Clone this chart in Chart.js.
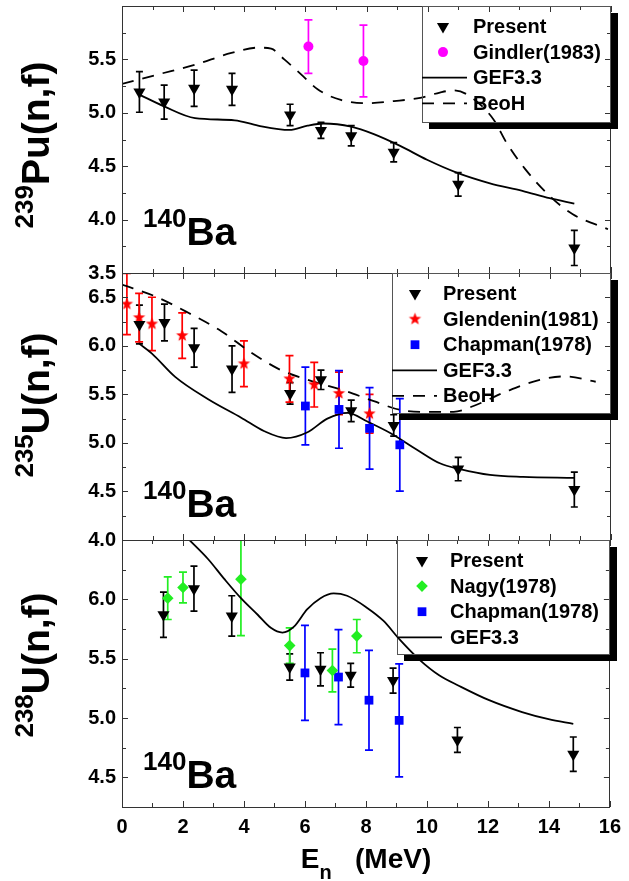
<!DOCTYPE html>
<html>
<head>
    <title>140Ba yields vs neutron energy</title>
    <script src="https://cdn.jsdelivr.net/npm/chart.js"></script>
    <style>
        body {
            margin: 0;
            background: #ffffff;
        }
        #wrap {
            position: relative;
            width: 629px;
            height: 881px;
            overflow: hidden;
        }
        canvas {
            position: absolute;
            left: 0;
        }
    </style>
</head>
<body>
<div id="wrap">
    <canvas id="puChart" width="629" height="310" style="top:-14px"></canvas>
    <canvas id="u235Chart" width="629" height="310" style="top:253px"></canvas>
    <canvas id="u238Chart" width="629" height="361" style="top:520px"></canvas>
</div>
<script>
    // ---------- data ----------
    const xTicks = [0, 2, 4, 6, 8, 10, 12, 14, 16];

    // 239Pu(n,f)
    const puTicks = [3.5, 4.0, 4.5, 5.0, 5.5];
    const puPresentX = [0.57, 1.38, 2.36, 3.6, 5.5, 6.51, 7.5, 8.89, 11.0, 14.8];
    const puPresentY = [5.195, 5.10, 5.23, 5.22, 4.98, 4.835, 4.785, 4.63, 4.33, 3.735];
    const puPresentErr = [0.19, 0.16, 0.17, 0.15, 0.10, 0.075, 0.095, 0.09, 0.11, 0.165];
    const gindlerX = [6.1, 7.9];
    const gindlerY = [5.62, 5.485];
    const gindlerErr = [0.25, 0.335];
    const puGefX = [0.57, 1.38, 2.39, 3.69, 4.45, 5.48, 6.07, 6.6, 7.5, 8.24, 9.1, 9.98, 10.95, 12.04, 13.1, 13.99, 14.8];
    const puGefY = [5.17, 5.06, 4.95, 4.93, 4.88, 4.84, 4.88, 4.90, 4.87, 4.80, 4.69, 4.56, 4.44, 4.34, 4.27, 4.20, 4.15];
    const puBeohX = [0, 1.19, 2.39, 3.58, 4.45, 4.88, 5.31, 5.86, 6.4, 7.16, 8.03, 8.9, 9.76, 10.4, 10.85, 11.3, 12.15, 12.58, 13.2, 14.0, 14.75, 15.9];
    const puBeohY = [5.27, 5.36, 5.45, 5.56, 5.61, 5.60, 5.50, 5.36, 5.22, 5.12, 5.09, 5.11, 5.14, 5.19, 5.21, 5.17, 4.94, 4.72, 4.47, 4.22, 4.05, 3.91];

    // 235U(n,f)
    const u235Ticks = [4.0, 4.5, 5.0, 5.5, 6.0, 6.5];
    const u235PresentX = [0.57, 1.39, 2.36, 3.6, 5.5, 6.51, 7.5, 8.89, 11.0, 14.8];
    const u235PresentY = [6.22, 6.24, 5.98, 5.76, 5.51, 5.65, 5.33, 5.18, 4.73, 4.52];
    const u235PresentErr = [0.20, 0.19, 0.20, 0.24, 0.11, 0.10, 0.11, 0.11, 0.12, 0.18];
    const glendeninX = [0.16, 0.56, 0.98, 1.97, 3.99, 5.48, 6.29, 7.1, 8.1];
    const glendeninY = [6.43, 6.29, 6.225, 6.105, 5.815, 5.66, 5.60, 5.51, 5.30];
    const glendeninErr = [0.315, 0.25, 0.275, 0.235, 0.235, 0.24, 0.23, 0.22, 0.20];
    const chapmanX = [6.0, 7.1, 8.1, 9.09];
    const chapmanY = [5.38, 5.345, 5.15, 4.98];
    const chapmanErr = [0.40, 0.40, 0.42, 0.476];
    const u235GefX = [0.57, 0.98, 1.74, 2.82, 3.9, 4.66, 5.37, 6.07, 6.72, 7.38, 8.03, 8.79, 9.65, 10.4, 11.06, 12.04, 13.12, 14.8];
    const u235GefY = [6.02, 5.92, 5.68, 5.45, 5.26, 5.12, 5.05, 5.11, 5.25, 5.31, 5.22, 5.10, 4.93, 4.79, 4.73, 4.67, 4.65, 4.64];
    const u235BeohX = [0, 1.08, 2.17, 3.25, 4.23, 5.2, 6.07, 7.16, 8.24, 9.1, 9.98, 10.85, 11.5, 12.58, 13.67, 14.5, 15.5];
    const u235BeohY = [6.63, 6.51, 6.34, 6.15, 5.93, 5.75, 5.65, 5.55, 5.43, 5.34, 5.32, 5.32, 5.38, 5.53, 5.65, 5.685, 5.63];

    // 238U(n,f)
    const u238Ticks = [4.5, 5.0, 5.5, 6.0];
    const u238PresentX = [1.36, 2.36, 3.6, 5.5, 6.51, 7.5, 8.89, 11.0, 14.8];
    const u238PresentY = [5.87, 6.09, 5.86, 5.43, 5.41, 5.36, 5.315, 4.815, 4.695];
    const u238PresentErr = [0.19, 0.19, 0.17, 0.11, 0.14, 0.10, 0.105, 0.105, 0.145];
    const nagyX = [1.5, 2.0, 3.9, 5.5, 6.9, 7.7];
    const nagyY = [6.01, 6.10, 6.17, 5.61, 5.40, 5.69];
    const nagyErr = [0.18, 0.13, 0.475, 0.15, 0.18, 0.14];
    const u238GefX = [2.17, 2.82, 3.36, 3.9, 4.45, 4.88, 5.26, 5.64, 6.07, 6.51, 6.94, 7.38, 8.03, 8.57, 9.11, 9.76, 10.4, 11.06, 12.04, 13.12, 13.99, 14.8];
    const u238GefY = [6.51, 6.34, 6.17, 6.01, 5.87, 5.76, 5.72, 5.77, 5.915, 6.01, 6.05, 6.03, 5.93, 5.82, 5.66, 5.49, 5.36, 5.27, 5.15, 5.05, 4.99, 4.95];

    // ---------- styles ----------
    const FONT = '"Liberation Sans", Arial, Helvetica, sans-serif';
    const FRAME = '#333333';

    function starImage(color, rOut, rIn) {
        const s = Math.ceil(rOut * 2) + 2;
        const c = document.createElement('canvas');
        c.width = s;
        c.height = s;
        const g = c.getContext('2d');
        g.fillStyle = color;
        g.beginPath();
        for (let i = 0; i < 10; i++) {
            const r = i % 2 ? rIn : rOut;
            const ang = -Math.PI / 2 + i * Math.PI / 5;
            g.lineTo(s / 2 + r * Math.cos(ang), s / 2 + r * Math.sin(ang));
        }
        g.closePath();
        g.fill();
        return c;
    }

    const MK = {
        present: {pointStyle: 'triangle', rotation: 180, radius: 7, color: '#000000', cap: 3.5},
        gindler: {pointStyle: 'circle', rotation: 0, radius: 5, color: '#ff00ff', cap: 4},
        glendenin: {pointStyle: starImage('#ff0000', 6.5, 2.7), rotation: 0, radius: 6, color: '#ff0000', cap: 4},
        chapman: {pointStyle: 'rect', rotation: 0, radius: 6.2, color: '#0000ff', cap: 4},
        nagy: {pointStyle: 'rectRot', rotation: 0, radius: 5.8, color: '#22ee22', cap: 4}
    };
    const DASH = [12, 9];

    function markers(label, mk, xs, ys, es) {
        return {
            label: label,
            mk: mk,
            data: xs.map((x, i) => ({x: x, y: ys[i], e: es[i]})),
            showLine: false,
            pointStyle: mk.pointStyle,
            rotation: mk.rotation,
            pointRadius: mk.radius,
            pointBackgroundColor: mk.color,
            pointBorderColor: mk.color,
            pointBorderWidth: 0
        };
    }

    function curve(label, xs, ys, dash) {
        return {
            label: label,
            data: xs.map((x, i) => ({x: x, y: ys[i]})),
            showLine: true,
            pointRadius: 0,
            borderColor: '#000000',
            borderWidth: 1.8,
            borderDash: dash || [],
            cubicInterpolationMode: 'monotone',
            fill: false
        };
    }

    // bold text with super/subscripts: parts = [text, size, raise]
    function richText(ctx, x, y, parts, align) {
        let w = 0;
        parts.forEach(p => {
            ctx.font = 'bold ' + p[1] + 'px ' + FONT;
            w += ctx.measureText(p[0]).width;
        });
        let cx = align === 'center' ? x - w / 2 : x;
        ctx.textAlign = 'left';
        ctx.textBaseline = 'alphabetic';
        parts.forEach(p => {
            ctx.font = 'bold ' + p[1] + 'px ' + FONT;
            ctx.fillText(p[0], cx, y - p[2]);
            cx += ctx.measureText(p[0]).width;
        });
    }

    // ---------- plugins ----------
    const errorBars = {
        id: 'errorBars',
        beforeDatasetsDraw(chart) {
            const {ctx, chartArea: a, scales: {y}} = chart;
            ctx.save();
            ctx.beginPath();
            ctx.rect(a.left, a.top, a.right - a.left, a.bottom - a.top);
            ctx.clip();
            chart.data.datasets.forEach((ds, di) => {
                if (!ds.mk) return;
                const meta = chart.getDatasetMeta(di);
                ctx.strokeStyle = ds.mk.color;
                ctx.lineWidth = 1.7;
                meta.data.forEach((pt, i) => {
                    const d = ds.data[i];
                    const y1 = y.getPixelForValue(d.y + d.e);
                    const y2 = y.getPixelForValue(d.y - d.e);
                    const c = ds.mk.cap;
                    ctx.beginPath();
                    ctx.moveTo(pt.x, y1); ctx.lineTo(pt.x, y2);
                    ctx.moveTo(pt.x - c, y1); ctx.lineTo(pt.x + c, y1);
                    ctx.moveTo(pt.x - c, y2); ctx.lineTo(pt.x + c, y2);
                    ctx.stroke();
                });
            });
            ctx.restore();
        }
    };

    const panelDeco = {
        id: 'panelDeco',
        afterDraw(chart, args, o) {
            const {ctx, chartArea: a, scales: {x, y}} = chart;
            const off = o.canvasTop;
            ctx.save();

            // frame and inward ticks on all four sides
            ctx.strokeStyle = FRAME;
            ctx.lineWidth = 1;
            ctx.strokeRect(Math.round(a.left) + 0.5, Math.round(a.top) + 0.5,
                Math.round(a.right - a.left) - 1, Math.round(a.bottom - a.top));
            ctx.beginPath();
            for (let v = x.min; v <= x.max + 1e-9; v += 1) {
                const px = Math.round(x.getPixelForValue(v)) + 0.5;
                const len = v % 2 === 0 ? 6 : 4;
                ctx.moveTo(px, a.bottom); ctx.lineTo(px, a.bottom - len);
                ctx.moveTo(px, a.top); ctx.lineTo(px, a.top + len);
            }
            for (let v = Math.ceil(y.min / 0.25) * 0.25; v <= y.max + 1e-9; v += 0.25) {
                const py = Math.round(y.getPixelForValue(v)) + 0.5;
                const len = Math.abs(v * 2 - Math.round(v * 2)) < 1e-6 ? 6 : 4;
                ctx.moveTo(a.left, py); ctx.lineTo(a.left + len, py);
                ctx.moveTo(a.right, py); ctx.lineTo(a.right - len, py);
            }
            ctx.stroke();

            // rotated y title
            ctx.fillStyle = '#000000';
            ctx.save();
            ctx.translate(o.yTitleX, o.yTitleY - off);
            ctx.rotate(-Math.PI / 2);
            richText(ctx, 0, 0, o.yTitle, 'center');
            ctx.restore();

            // isotope tag
            richText(ctx, o.tagX, o.tagY - off, [['140', 26, 18], ['Ba', 39, 0]], 'left');

            // x title
            if (o.xTitle) {
                richText(ctx, o.xTitleX, o.xTitleY - off, o.xTitle, 'center');
            }

            // legend box with drop shadow (no fill, curves show through)
            const L = o.legend;
            const left = L.left, top = Math.round(a.top), right = Math.round(a.right);
            const bottom = top + L.height;
            ctx.fillStyle = '#000000';
            ctx.fillRect(right, top + 7, 7, L.height);
            ctx.fillRect(left + 7, bottom, right - left, 7);
            ctx.strokeStyle = '#555555';
            ctx.strokeRect(left + 0.5, top + 0.5, right - left - 1, L.height);
            L.rows.forEach((row, i) => {
                const ry = top + L.first + i * L.step;
                if (row.mk) {
                    ctx.fillStyle = row.mk.color;
                    ctx.strokeStyle = row.mk.color;
                    Chart.helpers.drawPoint(ctx, {
                        pointStyle: row.mk.pointStyle,
                        rotation: row.mk.rotation,
                        radius: row.mk.radius,
                        borderWidth: 0
                    }, left + L.mx, ry);
                } else {
                    ctx.strokeStyle = '#000000';
                    ctx.lineWidth = 1.8;
                    ctx.setLineDash(row.dash);
                    ctx.beginPath();
                    ctx.moveTo(left, ry);
                    ctx.lineTo(left + 45, ry);
                    ctx.stroke();
                    ctx.setLineDash([]);
                }
                ctx.fillStyle = '#000000';
                ctx.font = 'bold 20px ' + FONT;
                ctx.textAlign = 'left';
                ctx.textBaseline = 'middle';
                ctx.fillText(row.label, left + L.tx, ry + 1);
            });
            ctx.restore();
        }
    };

    // ---------- chart builder ----------
    function makeChart(id, canvasTop, yMin, yMax, yTicks, datasets, deco, showX) {
        const tickFont = {family: FONT, size: 20, weight: 'bold'};
        deco.canvasTop = canvasTop;
        return new Chart(document.getElementById(id), {
            type: 'scatter',
            data: {datasets: datasets},
            options: {
                responsive: false,
                animation: false,
                events: [],
                layout: {padding: {top: 20, right: 18, left: 0, bottom: showX ? 0 : 23}},
                scales: {
                    x: {
                        type: 'linear',
                        min: 0,
                        max: 16,
                        display: showX,
                        afterBuildTicks: s => { s.ticks = xTicks.map(v => ({value: v})); },
                        afterFit: s => { s.height = showX ? 74 : 0; },
                        grid: {display: false, drawTicks: false},
                        border: {display: false},
                        ticks: {font: tickFont, color: '#000000', padding: 8, maxRotation: 0}
                    },
                    y: {
                        type: 'linear',
                        min: yMin,
                        max: yMax,
                        afterBuildTicks: s => { s.ticks = yTicks.map(v => ({value: v})); },
                        afterFit: s => { s.width = 122; },
                        grid: {display: false, drawTicks: false},
                        border: {display: false},
                        ticks: {
                            font: tickFont,
                            color: '#000000',
                            padding: 6,
                            callback: v => Number(v).toFixed(1)
                        }
                    }
                },
                plugins: {
                    legend: {display: false},
                    tooltip: {enabled: false},
                    panelDeco: deco
                }
            },
            plugins: [errorBars, panelDeco]
        });
    }

    const legendLayout = {first: 20.5, step: 25.6};

    makeChart('puChart', -14, 3.5, 6.0, puTicks, [
        markers('Present', MK.present, puPresentX, puPresentY, puPresentErr),
        markers('Gindler(1983)', MK.gindler, gindlerX, gindlerY, gindlerErr),
        curve('GEF3.3', puGefX, puGefY),
        curve('BeoH', puBeohX, puBeohY, DASH)
    ], {
        yTitle: [['239', 26, 16], ['Pu(n,f)', 39, 0]], yTitleX: 49, yTitleY: 145,
        tagX: 143, tagY: 245,
        legend: Object.assign({left: 422, height: 116, mx: 21, tx: 51, rows: [
            {mk: MK.present, label: 'Present'},
            {mk: MK.gindler, label: 'Gindler(1983)'},
            {dash: [], label: 'GEF3.3'},
            {dash: DASH, label: 'BeoH'}
        ]}, legendLayout)
    }, false);

    makeChart('u235Chart', 253, 4.0, 6.75, u235Ticks, [
        markers('Present', MK.present, u235PresentX, u235PresentY, u235PresentErr),
        markers('Glendenin(1981)', MK.glendenin, glendeninX, glendeninY, glendeninErr),
        markers('Chapman(1978)', MK.chapman, chapmanX, chapmanY, chapmanErr),
        curve('GEF3.3', u235GefX, u235GefY),
        curve('BeoH', u235BeohX, u235BeohY, DASH)
    ], {
        yTitle: [['235', 26, 16], ['U(n,f)', 39, 0]], yTitleX: 49, yTitleY: 405,
        tagX: 143, tagY: 517,
        legend: Object.assign({left: 392, height: 140, mx: 23, tx: 51, rows: [
            {mk: MK.present, label: 'Present'},
            {mk: MK.glendenin, label: 'Glendenin(1981)'},
            {mk: MK.chapman, label: 'Chapman(1978)'},
            {dash: [], label: 'GEF3.3'},
            {dash: DASH, label: 'BeoH'}
        ]}, legendLayout)
    }, false);

    makeChart('u238Chart', 520, 4.25, 6.5, u238Ticks, [
        markers('Present', MK.present, u238PresentX, u238PresentY, u238PresentErr),
        markers('Nagy(1978)', MK.nagy, nagyX, nagyY, nagyErr),
        markers('Chapman(1978)', MK.chapman, chapmanX, chapmanY, chapmanErr),
        curve('GEF3.3', u238GefX, u238GefY)
    ], {
        yTitle: [['238', 26, 16], ['U(n,f)', 39, 0]], yTitleX: 49, yTitleY: 665,
        tagX: 143, tagY: 788,
        xTitle: [['E', 28, 0], ['n', 20, -11], ['   (MeV)', 28, 0]], xTitleX: 366, xTitleY: 868,
        legend: Object.assign({left: 397, height: 114, mx: 25, tx: 53, rows: [
            {mk: MK.present, label: 'Present'},
            {mk: MK.nagy, label: 'Nagy(1978)'},
            {mk: MK.chapman, label: 'Chapman(1978)'},
            {dash: [], label: 'GEF3.3'}
        ]}, legendLayout)
    }, true);
</script>
</body>
</html>
